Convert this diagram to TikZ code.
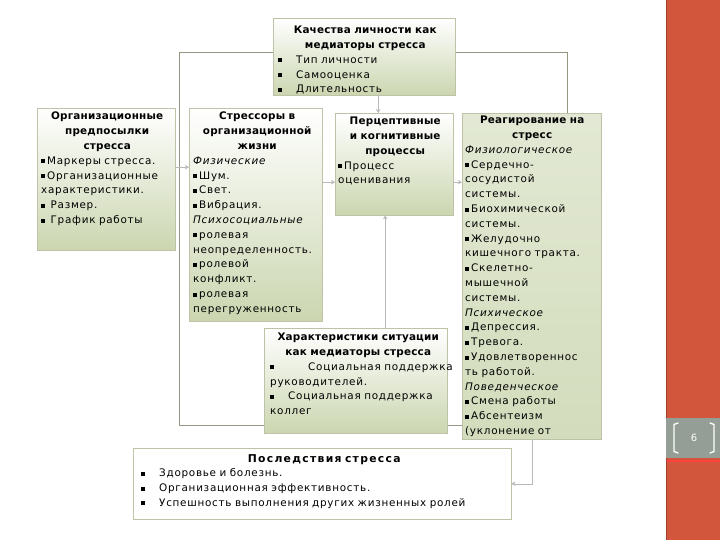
\documentclass[tikz,border=0pt]{standalone}
\usepackage{fontspec}
\newfontfamily\boxfont[LetterSpace=7,BoldFeatures={LetterSpace=2}]{DejaVu Sans}
\newfontfamily\widebold[LetterSpace=12]{DejaVu Sans Bold}
\usetikzlibrary{arrows.meta,positioning}
\definecolor{boxgreen}{RGB}{203,214,176}
\definecolor{boxline}{RGB}{192,194,168}
\definecolor{frameline}{RGB}{150,150,128}
\definecolor{slidered}{RGB}{210,86,60}
\definecolor{slidegray}{RGB}{148,158,150}
\newcommand{\sq}{\rule[1pt]{4pt}{4pt}\hspace{2pt}}
\tikzset{
  box/.style={draw=boxline, top color=white, bottom color=boxgreen, anchor=north west, inner sep=0pt},
  boxtext/.style={anchor=north west, inner sep=0pt, align=left, font=\boxfont\fontsize{10.4}{14.8}\selectfont},
  link/.style={draw=gray!55, -{Stealth[length=4pt,width=4.5pt]}},
}
\begin{document}
\begin{tikzpicture}[x=1pt,y=-1pt]
	\useasboundingbox (0,0) rectangle (720,540);
	\draw[frameline] (179,52) rectangle (567,425);

	\node[box, minimum width=182pt, minimum height=77pt] (qual) at (273,18) {};
	\node[box, minimum width=138pt, minimum height=142pt] (org) at (37,108) {};
	\node[box, minimum width=133pt, minimum height=213pt] (stress) at (189,108) {};
	\node[box, minimum width=118pt, minimum height=102pt] (perc) at (335,113) {};
	\node[box, top color=boxgreen!55!white, bottom color=boxgreen!85!white, minimum width=139pt, minimum height=326pt] (react) at (462,113) {};
	\node[box, minimum width=183pt, minimum height=105pt] (sit) at (264,328) {};
	\node[box, top color=white, bottom color=white, minimum width=378pt, minimum height=71pt] (cons) at (133,448) {};

	\begin{scope}
		\clip (qual.south west) rectangle (qual.north east);
		\node[boxtext, text width=174pt] (qualtext) at (278,26) {{\centering\bfseries Качества личности как\\медиаторы стресса\par}
			\sq\hspace{12pt}Тип личности\\
			\sq\hspace{12pt}Самооценка\\
			\sq\hspace{12pt}Длительность};
	\end{scope}
	\node[boxtext, text width=132pt] (orgtext) at (41,112) {{\centering\bfseries Организационные\\предпосылки\\стресса\par}
		\sq Маркеры стресса.\\
		\sq Организационные\\
		характеристики.\\
		\sq\ Размер.\\
		\sq\ График работы};
	\node[boxtext, text width=128pt] (stresstext) at (193,112) {{\centering\bfseries Стрессоры в\\организационной\\жизни\par}
		\textit{Физические}\\
		\sq Шум.\\
		\sq Свет.\\
		\sq Вибрация.\\
		\textit{Психосоциальные}\\
		\sq ролевая\\
		неопределенность.\\
		\sq ролевой\\
		конфликт.\\
		\sq ролевая\\
		перегруженность};
	\node[boxtext, text width=114pt] (perctext) at (338,117) {{\centering\bfseries Перцептивные\\и когнитивные\\процессы\par}
		\sq Процесс\\
		оценивания};
	\node[boxtext, text width=134pt] (reacttext) at (465,116) {{\centering\bfseries Реагирование на\\стресс\par}
		\textit{Физиологическое}\\
		\sq Сердечно-\\
		сосудистой\\
		системы.\\
		\sq Биохимической\\
		системы.\\
		\sq Желудочно\\
		кишечного тракта.\\
		\sq Скелетно-\\
		мышечной\\
		системы.\\
		\textit{Психическое}\\
		\sq Депрессия.\\
		\sq Тревога.\\
		\sq Удовлетвореннос\\
		ть работой.\\
		\textit{Поведенческое}\\
		\sq Смена работы\\
		\sq Абсентеизм\\
		(уклонение от};
	\node[boxtext, text width=176pt] (sittext) at (270,333) {{\centering\bfseries Характеристики ситуации\\как медиаторы стресса\par}
		\sq\hspace{32pt}\makebox[126pt][s]{Социальная поддержка}\\
		руководителей.\\
		\sq\hspace{12pt}\makebox[152pt][s]{Социальная поддержка}\\
		коллег};
	\node[boxtext, text width=366pt] (constext) at (141,454) {{\centering\widebold\fontsize{10.8}{14.8}\selectfont Последствия стресса\par}
		\sq\hspace{12pt}Здоровье и болезнь.\\
		\sq\hspace{12pt}Организационная эффективность.\\
		\sq\hspace{12pt}Успешность выполнения других жизненных ролей};

	\draw[link] ([xshift=14pt]qual.south) -- ([xshift=14pt]qual.south |- perc.north);
	\draw[link] ([yshift=12pt]org.east) -- ([yshift=12pt]org.east -| stress.west);
	\draw[link] ([yshift=-18pt]perc.west -| stress.east) -- ([yshift=-18pt]perc.west);
	\draw[link] ([yshift=-18pt]perc.east) -- ([yshift=-18pt]perc.east -| react.west);
	\draw[link] ([xshift=-9pt]perc.south |- sit.north) -- ([xshift=-9pt]perc.south);
	\draw[link] (react.south) |- (cons.east);

	\fill[slidered] (666,0) rectangle (720,540);
	\draw[slidered!75!black, line width=1pt] (666.5,0) -- (666.5,540);
	\fill[slidegray] (666,418) rectangle (720,458);
	\draw[red!75!white, line width=1.5pt] (667,461) -- (720,461);
	\draw[white, line width=1.3pt, line cap=round] (678,423) -- (674,424.5) -- (674,451.5) -- (678,453);
	\draw[white, line width=1.3pt, line cap=round] (710,423) -- (714,424.5) -- (714,451.5) -- (710,453);
	\node[white, font=\boxfont\fontsize{10}{12}\selectfont] (pagenum) at (694,438) {6};
\end{tikzpicture}
\end{document}
